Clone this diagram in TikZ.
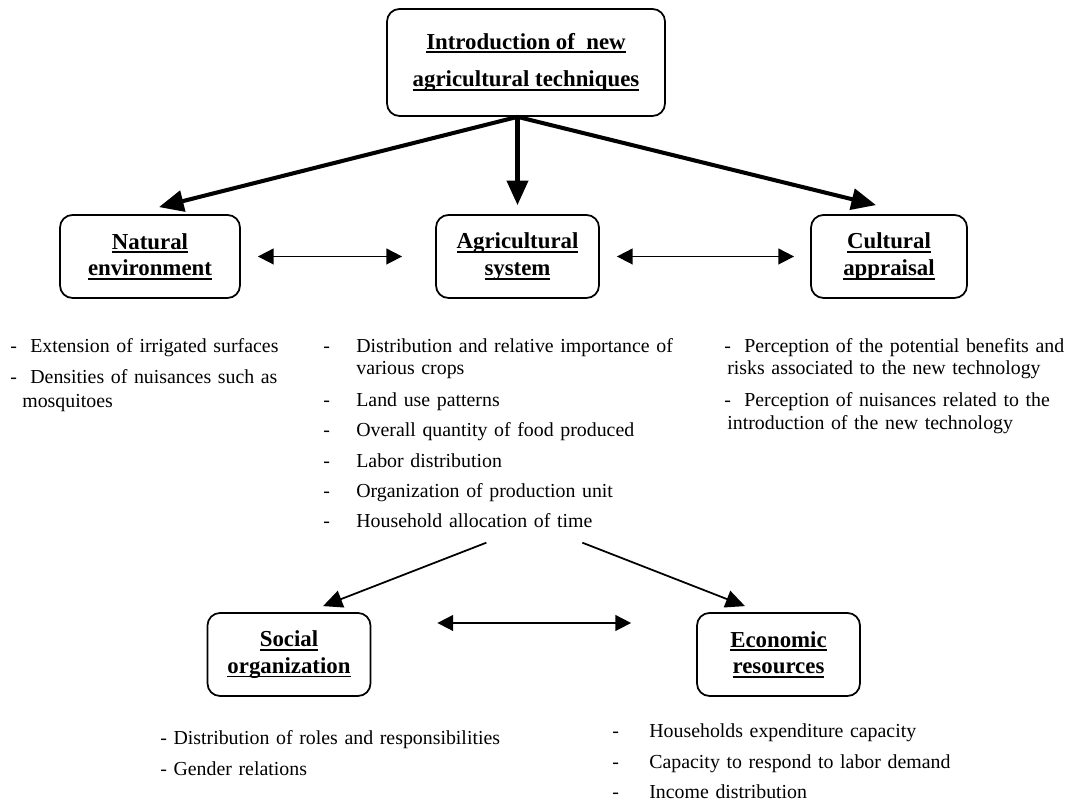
\documentclass[tikz,border=0pt]{standalone}
\usepackage{fontspec}
\setmainfont{Liberation Serif}
\usetikzlibrary{arrows.meta,calc}
\tikzstyle{block} = [rectangle, draw, line width=1pt, rounded corners=0.25cm,
    align=center, minimum width=3.26cm, minimum height=1.66cm,
    font=\fontsize{13}{15}\selectfont\bfseries]
\tikzstyle{list} = [anchor=base west, inner sep=0pt, align=left,
    font=\fontsize{11.3}{12.5}\selectfont]
\tikzstyle{thick line} = [draw, line width=2.3pt, -{Triangle[length=14pt,width=12pt]}]
\tikzstyle{line} = [draw, line width=1pt, -{Triangle[length=11pt,width=10pt]}]
\tikzstyle{both line} = [draw, line width=1pt, {Triangle[length=9pt,width=9pt]}-{Triangle[length=9pt,width=9pt]}]
\newlength\hdwd
\newcommand{\hd}[1]{\settowidth{\hdwd}{#1}\rlap{\rule[-2.5pt]{\hdwd}{1.1pt}}#1}
\newcommand{\dashitem}[2]{\makebox[#1][l]{-}#2}

\begin{document}
\begin{tikzpicture}
    \useasboundingbox (0,0) rectangle (21.38,16.06);
    % Place nodes
    \node [block, minimum width=5.56cm, minimum height=2.14cm] (top) at (10.52,14.81)
        {\hd{Introduction of~ new}\\[6.6pt]\hd{agricultural techniques}};
    \node [block, below of=top, node distance=3.88cm, xshift=-0.17cm] (agri) {\hd{Agricultural}\\\hd{system}};
    \node [block, left of=agri, node distance=7.35cm, minimum width=3.6cm] (natural) {\hd{Natural}\\\hd{environment}};
    \node [block, right of=agri, node distance=7.43cm, minimum width=3.12cm] (cultural) {\hd{Cultural}\\\hd{appraisal}};
    \node [block, below of=agri, node distance=7.96cm, xshift=-4.57cm] (social) {\hd{Social}\\\hd{organization}};
    \node [block, right of=social, node distance=9.79cm] (economic) {\hd{Economic}\\\hd{resources}};
    % Lists below the blocks
    \node [list, text width=6.2cm] (natlist) at (0.2,9.0) {%
        \dashitem{0.4cm}{Extension of irrigated surfaces}\\[4.6pt]
        \dashitem{0.4cm}{Densities of nuisances such as}\\[1.2pt]
        \hspace*{0.24cm}mosquitoes};
    \node [list, text width=7.4cm] (agrilist) at (6.46,9.0) {%
        \dashitem{0.66cm}{Distribution and relative importance of}\\
        \hspace*{0.66cm}various crops\\[5.7pt]
        \dashitem{0.66cm}{Land use patterns}\\[4.6pt]
        \dashitem{0.66cm}{Overall quantity of food produced}\\[4.6pt]
        \dashitem{0.66cm}{Labor distribution}\\[4.6pt]
        \dashitem{0.66cm}{Organization of production unit}\\[4.6pt]
        \dashitem{0.66cm}{Household allocation of time}};
    \node [list, text width=8.5cm] (cultlist) at (14.48,9.0) {%
        \dashitem{0.4cm}{Perception of the potential benefits and}\\
        \hspace*{0.06cm}risks associated to the new technology\\[5.7pt]
        \dashitem{0.4cm}{Perception of nuisances related to the}\\[0.6pt]
        \hspace*{0.06cm}introduction of the new technology};
    \node [list, text width=8.5cm] (soclist) at (3.2,1.16) {%
        - Distribution of roles and responsibilities\\[4.6pt]
        - Gender relations};
    \node [list, text width=8.5cm] (ecolist) at (12.24,1.3) {%
        \dashitem{0.74cm}{Households expenditure capacity}\\[4.6pt]
        \dashitem{0.74cm}{Capacity to respond to labor demand}\\[4.6pt]
        \dashitem{0.74cm}{Income distribution}};
    % Draw edges
    \coordinate (fork) at (top.south -| agri.north);
    \path [thick line] (fork) -- ([xshift=0.18cm,yshift=0.14cm]natural.north);
    \path [thick line] (fork) -- ([yshift=0.18cm]agri.north);
    \path [thick line] (fork) -- ([xshift=-0.26cm,yshift=0.18cm]cultural.north);
    \path [both line] ([xshift=0.34cm]natural.east) -- ([xshift=-0.66cm]agri.west);
    \path [both line] ([xshift=0.34cm]agri.east) -- ([xshift=-0.32cm]cultural.west);
    \path [both line] ([xshift=1.32cm,yshift=0.63cm]social.east) -- ([xshift=-1.3cm,yshift=0.63cm]economic.west);
    \path [line] ([xshift=-0.44cm,yshift=-0.3cm]agrilist.south) -- ([xshift=0.68cm,yshift=0.12cm]social.north);
    \path [line] ([xshift=1.48cm,yshift=-0.3cm]agrilist.south) -- ([xshift=-0.67cm,yshift=0.12cm]economic.north);
\end{tikzpicture}
\end{document}
